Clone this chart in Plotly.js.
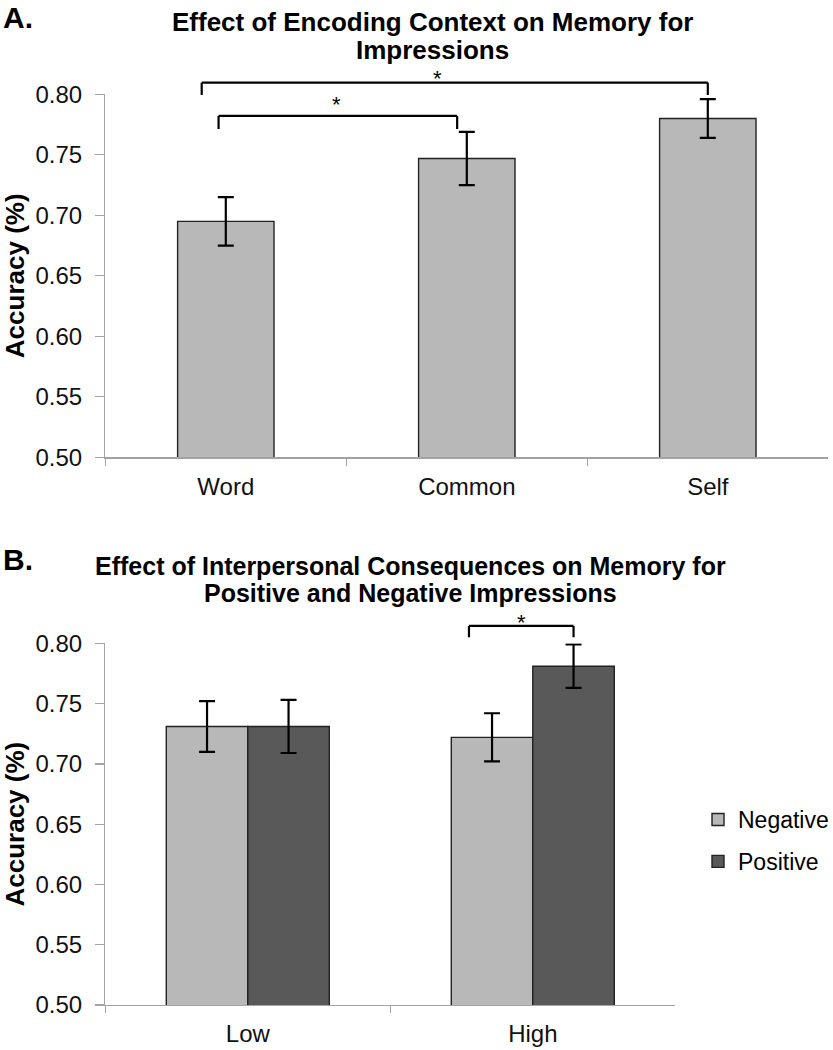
<!DOCTYPE html>
<html><head><meta charset="utf-8">
<script src="https://cdn.plot.ly/plotly-3.0.1.min.js"></script>
<style>html,body{margin:0;padding:0;background:#fff;overflow:hidden}</style>
</head><body><div id="chart" style="width:833px;height:1050px"></div>
<script>
// ---- data ----
const contextCats = ["Word", "Common", "Self"];
const contextAcc = [0.695, 0.747, 0.780];
const contextErr = [0.020, 0.022, 0.016];

const consequenceCats = ["Low", "High"];
const negativeAcc = [0.731, 0.722];
const negativeErr = [0.021, 0.020];
const positiveAcc = [0.731, 0.781];
const positiveErr = [0.022, 0.018];

const yTicks = [0.50, 0.55, 0.60, 0.65, 0.70, 0.75, 0.80];
const yTickLabels = ["0.50", "0.55", "0.60", "0.65", "0.70", "0.75", "0.80"];
const yRange = [0.50, 0.80];

// ---- layout geometry (pixels -> paper) ----
const W = 833, H = 1050;
const px = v => v / W;
const py = v => 1 - v / H;

const xDomA = [px(105.3), px(828.3)];
const yDomA = [py(457.3), py(94.3)];
const xDomB = [px(105.3), px(675.3)];
const yDomB = [py(1005), py(643.3)];

// helpers mapping data -> paper (for significance brackets drawn above the axes)
const xPaper = (dom, n) => idx => dom[0] + (idx + 0.5) / n * (dom[1] - dom[0]);
const yPaper = dom => v => dom[0] + (v - yRange[0]) / (yRange[1] - yRange[0]) * (dom[1] - dom[0]);
const xA = xPaper(xDomA, contextCats.length), yA = yPaper(yDomA);
const xB = xPaper(xDomB, consequenceCats.length), yB = yPaper(yDomB);

const FONT = "Liberation Sans, Arial, Helvetica, sans-serif";
const LIGHT = "#b8b8b8", DARK = "#595959", EDGE = "#222222", AXIS = "#a3a3a3";

const barW = 0.286;
const traces = [
  {
    type: "bar", x: contextCats, y: contextAcc, xaxis: "x", yaxis: "y",
    width: 0.4, showlegend: false,
    marker: {color: LIGHT, line: {color: EDGE, width: 1.4}},
    error_y: {type: "data", array: contextErr, visible: true, color: "#000", thickness: 2.2, width: 8},
    hoverinfo: "x+y"
  },
  {
    type: "bar", name: "Negative", x: consequenceCats, y: negativeAcc, xaxis: "x2", yaxis: "y2",
    width: barW, offset: -barW, legendgroup: "neg",
    marker: {color: LIGHT, line: {color: EDGE, width: 1.4}},
    error_y: {type: "data", array: negativeErr, visible: true, color: "#000", thickness: 2.2, width: 8}
  },
  {
    type: "bar", name: "Positive", x: consequenceCats, y: positiveAcc, xaxis: "x2", yaxis: "y2",
    width: barW, offset: 0, legendgroup: "pos",
    marker: {color: DARK, line: {color: EDGE, width: 1.4}},
    error_y: {type: "data", array: positiveErr, visible: true, color: "#000", thickness: 2.2, width: 8}
  }
];

function xAxis(dom, anchor, n, standoff) {
  return {
    domain: dom, anchor: anchor, type: "category", range: [-0.5, n - 0.5],
    showline: true, linecolor: AXIS, linewidth: 1.3, mirror: false,
    ticks: "outside", tickson: "boundaries", ticklen: 7, tickcolor: AXIS, tickwidth: 1.3,
    tickfont: {family: FONT, size: 24, color: "#111"}, ticklabelstandoff: standoff,
    showgrid: false, zeroline: false, fixedrange: true, automargin: false
  };
}
function yAxis(dom, anchor) {
  return {
    domain: dom, anchor: anchor, range: yRange,
    tickvals: yTicks, ticktext: yTickLabels,
    showline: true, linecolor: AXIS, linewidth: 1.3,
    ticks: "outside", ticklen: 9, tickcolor: AXIS, tickwidth: 1.3,
    tickfont: {family: FONT, size: 24, color: "#111"}, ticklabelstandoff: 8,
    showgrid: false, zeroline: false, fixedrange: true, automargin: false,
    title: {text: "Accuracy (%)", font: {family: FONT, size: 26, color: "#000", weight: "bold"}, standoff: 6}
  };
}

function bracket(xl, xr, yTop, yEnd, xf, yf) {
  const s = {type: "line", xref: "paper", yref: "paper", line: {color: "#000", width: 2.2}};
  return [
    Object.assign({}, s, {x0: xf(xl), x1: xf(xl), y0: yf(yEnd), y1: yf(yTop)}),
    Object.assign({}, s, {x0: xf(xl), x1: xf(xr), y0: yf(yTop), y1: yf(yTop)}),
    Object.assign({}, s, {x0: xf(xr), x1: xf(xr), y0: yf(yEnd), y1: yf(yTop)})
  ];
}

const shapes = [].concat(
  bracket(-0.10, 2.00, 0.8096, 0.7994, xA, yA),
  bracket(-0.03, 0.96, 0.7821, 0.7713, xA, yA),
  bracket(0.776, 1.143, 0.8144, 0.8050, xB, yB)
);

function txt(text, x, y, size, bold, xanchor) {
  return {
    text: text, xref: "paper", yref: "paper", x: x, y: y, showarrow: false,
    xanchor: xanchor || "center", yanchor: "middle",
    font: {family: FONT, size: size, color: "#000", weight: bold ? "bold" : "normal"}
  };
}

const annotations = [
  txt("A.", px(1), py(17.5), 30, true, "left"),
  txt("Effect of Encoding Context on Memory for", px(432), py(22), 26, true),
  txt("Impressions", px(432), py(50), 26, true),
  txt("*", px(437), py(78), 22, false),
  txt("*", px(336), py(104), 22, false),
  txt("B.", px(1), py(559), 30, true, "left"),
  txt("Effect of Interpersonal Consequences on Memory for", px(410), py(566), 25, true),
  txt("Positive and Negative Impressions", px(410), py(593), 25, true),
  txt("*", px(521), py(622), 22, false)
];

const layout = {
  width: W, height: H,
  margin: {l: 0, r: 0, t: 0, b: 0, autoexpand: false},
  paper_bgcolor: "#fff", plot_bgcolor: "#fff",
  font: {family: FONT, color: "#000"},
  barmode: "group",
  xaxis: xAxis(xDomA, "y", contextCats.length, 8),
  yaxis: yAxis(yDomA, "x"),
  xaxis2: xAxis(xDomB, "y2", consequenceCats.length, 7),
  yaxis2: yAxis(yDomB, "x2"),
  showlegend: true,
  legend: {
    x: px(698), y: py(798), xanchor: "left", yanchor: "top",
    font: {family: FONT, size: 23, color: "#000"},
    bgcolor: "rgba(0,0,0,0)", tracegroupgap: 9, traceorder: "grouped"
  },
  shapes: shapes,
  annotations: annotations
};

Plotly.newPlot("chart", traces, layout, {displayModeBar: false, staticPlot: true});
</script>
</body></html>
